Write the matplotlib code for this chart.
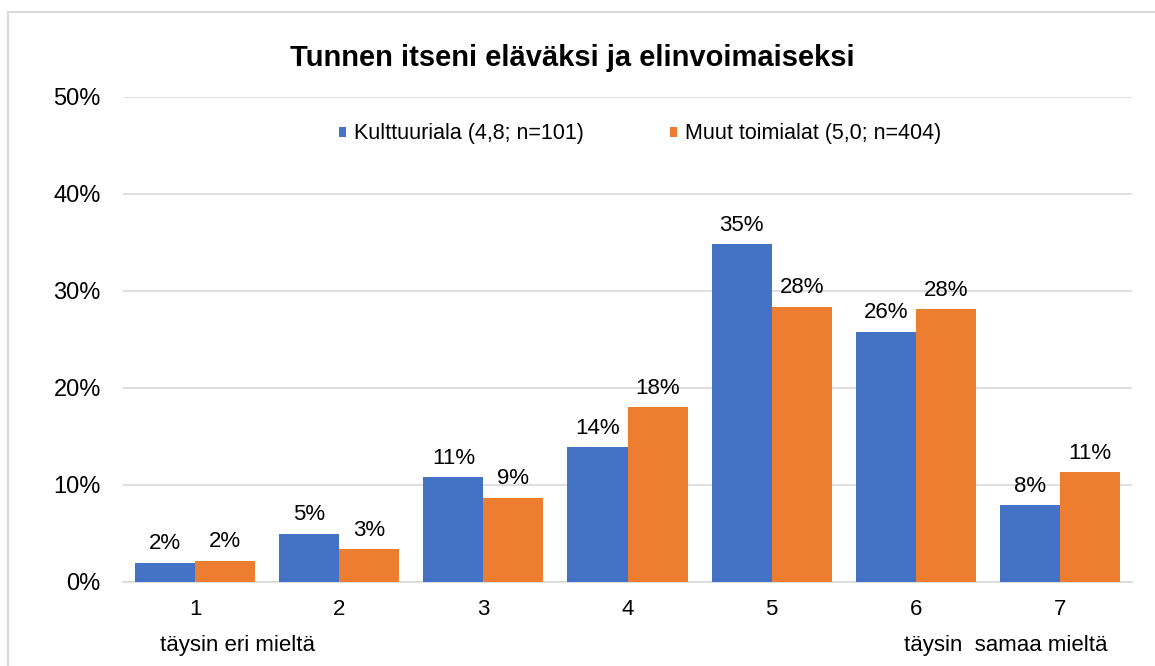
import matplotlib.pyplot as plt
from matplotlib.patches import Rectangle
import numpy as np

plt.rcParams['font.family'] = ['Liberation Sans', 'DejaVu Sans']

# data
categories = ['1', '2', '3', '4', '5', '6', '7']
kulttuuriala = [2.0, 5.0, 10.8, 13.9, 34.8, 25.8, 7.9]
muut = [2.2, 3.4, 8.7, 18.0, 28.4, 28.1, 11.3]
labels_k = ['2%', '5%', '11%', '14%', '35%', '26%', '8%']
labels_m = ['2%', '3%', '9%', '18%', '28%', '28%', '11%']
series_names = ['Kulttuuriala (4,8; n=101)', 'Muut toimialat (5,0; n=404)']

blue = '#4472C4'
orange = '#ED7D31'
grid_col = '#D9D9D9'

fig = plt.figure(figsize=(11.55, 6.66), dpi=100)
ax = fig.add_axes([123 / 1155, 1 - 582 / 666, (1132 - 123) / 1155, (582 - 97) / 666])

# outer chart border
fig.patches.append(Rectangle((8 / 1155, -0.1), 1.2, 1 - 12 / 666 + 0.1,
                             transform=fig.transFigure, fill=False,
                             edgecolor=grid_col, linewidth=1.5))

x = np.arange(len(categories))
w = 0.4167
b1 = ax.bar(x - w / 2, kulttuuriala, w, color=blue, label=series_names[0], zorder=3)
b2 = ax.bar(x + w / 2, muut, w, color=orange, label=series_names[1], zorder=3)

for bars, labs in [(b1, labels_k), (b2, labels_m)]:
    for bar, lab in zip(bars, labs):
        ax.annotate(lab, (bar.get_x() + bar.get_width() / 2, bar.get_height()),
                    xytext=(0, 6), textcoords='offset points',
                    ha='center', va='bottom', fontsize=16, color='#000000')

ax.set_xlim(-0.5, 6.5)
ax.set_ylim(0, 50)
ax.set_yticks(range(0, 51, 10))
ax.set_yticklabels([f'{v}%' for v in range(0, 51, 10)], fontsize=17)
ax.set_xticks(x)
ax.set_xticklabels(categories, fontsize=16)
ax.tick_params(axis='both', length=0)
ax.tick_params(axis='y', pad=16)
ax.tick_params(axis='x', pad=12)
ax.grid(axis='y', color=grid_col, linewidth=1.2, zorder=0)
for s in ['top', 'right', 'left']:
    ax.spines[s].set_visible(False)
ax.spines['bottom'].set_color(grid_col)
ax.spines['bottom'].set_linewidth(1.2)

fig.text(572 / 1155, 1 - 58 / 666, 'Tunnen itseni eläväksi ja elinvoimaiseksi',
         ha='center', va='center', fontsize=21, fontweight='bold')

ax.legend(loc='center', bbox_to_anchor=((640 - 123) / 1009, 1 - (134 - 97) / 485), ncol=2,
          frameon=False, fontsize=15.5, handlelength=0.35, handleheight=0.35,
          handletextpad=0.35, columnspacing=4.0)

fig.text(160 / 1155, 1 - 646 / 666, 'täysin eri mieltä', ha='left', va='center', fontsize=16)
fig.text(1108 / 1155, 1 - 646 / 666, 'täysin  samaa mieltä', ha='right', va='center', fontsize=16)

fig.savefig('out.png', dpi=100, facecolor='white')
